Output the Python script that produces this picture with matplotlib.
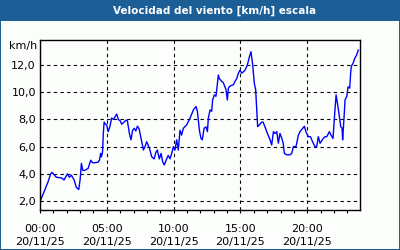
import matplotlib
matplotlib.use("Agg")
import matplotlib.pyplot as plt
from matplotlib.patches import Rectangle
from matplotlib.ticker import MultipleLocator

# hours since 00:00 on 20/11/25 and wind speed in km/h
hours = [0.05, 0.35, 0.6, 0.8, 0.9, 1.22, 1.6, 1.8, 2.05, 2.2, 2.35, 2.55,
         2.72, 2.9, 3.0, 3.1, 3.2, 3.35, 3.6, 3.8, 3.95, 4.34, 4.45, 4.54,
         4.6, 4.68, 4.74, 4.8, 4.9, 4.99, 5.1, 5.24, 5.36, 5.5, 5.74, 5.86,
         6.0, 6.11, 6.29, 6.44, 6.54, 6.69, 6.81, 6.93, 7.05, 7.17, 7.29,
         7.42, 7.61, 7.74, 7.86, 7.98, 8.1, 8.2, 8.36, 8.54, 8.68, 8.78,
         8.93, 9.06, 9.18, 9.3, 9.48, 9.6, 9.73, 9.86, 9.98, 10.1, 10.23,
         10.35, 10.48, 10.6, 10.73, 10.98, 11.23, 11.48, 11.68, 11.78, 11.93,
         12.05, 12.15, 12.28, 12.43, 12.53, 12.6, 12.73, 12.85, 12.92, 13.05,
         13.17, 13.35, 13.42, 13.6, 13.72, 13.92, 14.02, 14.1, 14.22, 14.47,
         14.6, 14.72, 14.85, 14.97, 15.1, 15.22, 15.35, 15.52, 15.67, 15.79,
         15.92, 16.04, 16.14, 16.29, 16.42, 16.59, 16.7, 16.84, 17.02, 17.22,
         17.34, 17.47, 17.6, 17.72, 17.84, 17.96, 18.1, 18.2, 18.29, 18.46,
         18.71, 18.84, 18.96, 19.16, 19.34, 19.46, 19.66, 19.79, 19.9, 20.08,
         20.24, 20.4, 20.58, 20.71, 20.83, 20.96, 21.2, 21.33, 21.46, 21.66,
         21.78, 21.93, 22.03, 22.16, 22.26, 22.41, 22.51, 22.61, 22.65, 22.76,
         22.83, 22.96, 23.06, 23.18, 23.25, 23.3, 23.44, 23.56, 23.7, 23.82]
speeds = [2.07, 2.8, 3.4, 4.0, 4.1, 3.75, 3.7, 3.55, 4.0, 3.75, 3.9, 3.55,
          3.0, 2.85, 3.55, 4.77, 4.25, 4.25, 4.4, 5.0, 4.8, 4.85, 5.0, 5.5,
          5.25, 5.6, 7.0, 7.8, 7.65, 7.6, 7.1, 7.5, 8.1, 8.0, 8.4, 8.0,
          7.9, 7.65, 7.8, 7.95, 7.9, 6.97, 6.5, 7.2, 7.35, 7.15, 7.5,
          7.3, 6.36, 5.75, 6.0, 6.36, 6.1, 5.85, 5.25, 5.1, 5.6, 5.75,
          5.1, 5.5, 4.9, 4.65, 5.1, 5.35, 5.1, 5.5, 6.0, 5.75, 6.5,
          5.75, 7.2, 6.85, 7.35, 7.6, 8.1, 8.7, 8.95, 8.6, 7.2,
          6.6, 6.5, 7.35, 7.45, 7.1, 8.1, 8.7, 8.6, 9.43, 9.8,
          9.7, 11.26, 11.0, 10.8, 10.7, 10.2, 9.43, 10.3, 10.45, 10.55,
          10.8, 11.0, 11.4, 11.63, 11.4, 11.5, 11.63, 12.0, 12.6, 12.98,
          12.0, 10.65, 10.2, 7.47, 7.6, 7.8, 7.8, 7.45, 6.97, 6.5,
          6.12, 7.1, 6.97, 7.1, 6.25, 6.97, 6.6, 6.25, 5.5, 5.4,
          5.4, 5.5, 6.0, 6.0, 6.85, 7.1, 7.35, 7.5, 7.1, 6.73,
          6.73, 6.36, 6.0, 6.0, 6.73, 6.25, 6.6, 6.73, 6.73, 7.1,
          6.85, 6.6, 8.08, 9.8, 9.2, 8.2, 7.47, 7.35, 6.5, 8.2,
          9.43, 9.7, 10.4, 10.3, 11.4, 11.9, 12.15, 12.5, 12.74, 13.1]

tick_hours = [0, 5, 10, 15, 20]
tick_labels = ["00:00\n20/11/25", "05:00\n20/11/25", "10:00\n20/11/25",
               "15:00\n20/11/25", "20:00\n20/11/25"]
y_ticks = [2, 4, 6, 8, 10, 12]
y_labels = ["2,0", "4,0", "6,0", "8,0", "10,0", "12,0"]

frame_blue = "#1c5e96"

fig = plt.figure(figsize=(4, 2.5), dpi=100, facecolor=frame_blue)
# white panel inside the blue frame (drawn under the axes)
fig.patches.append(Rectangle((1 / 400, 1 / 250), 398 / 400, 228 / 250,
                             transform=fig.transFigure, facecolor="#fcfefc",
                             edgecolor="none", zorder=-1))
fig.text(215 / 400, 1 - 11 / 250, "Velocidad del viento [km/h] escala",
         color="white", fontsize=7.5, fontweight="bold",
         ha="center", va="center")

ax = fig.add_axes([40 / 400, 40 / 250, 320 / 400, 170 / 250])
ax.set_zorder(1)
ax.set_facecolor("#fcfefc")
ax.plot(hours, speeds, color="#0000ff", linewidth=1)

ax.set_xlim(0, 23.95)
ax.set_ylim(1.34, 13.84)
ax.set_xticks(tick_hours)
ax.set_xticklabels(tick_labels, fontsize=8, linespacing=1.35)
ax.xaxis.set_minor_locator(MultipleLocator(1))
ax.set_yticks(y_ticks)
ax.set_yticklabels(y_labels, fontsize=8)

ax.tick_params(axis="x", which="both", direction="out", length=2.2,
               width=0.8, pad=8, colors="black")
ax.tick_params(axis="y", length=0, pad=3)
ax.grid(True, which="major", color="black", linestyle=(0, (3, 3)),
        linewidth=0.8)
for s in ax.spines.values():
    s.set_color("black")
    s.set_linewidth(1)

fig.text(37 / 400, 1 - 46 / 250, "km/h", fontsize=8, ha="right", va="center",
         zorder=2)

fig.savefig("out.png", dpi=100, facecolor=frame_blue)
